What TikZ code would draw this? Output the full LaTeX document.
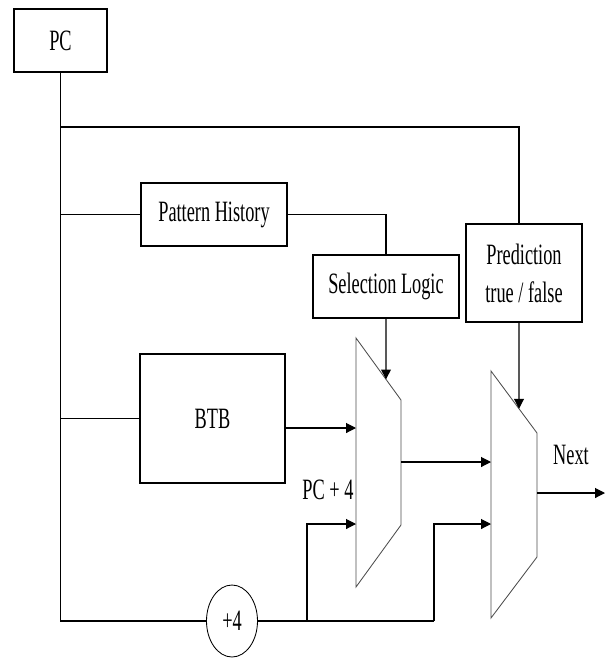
\documentclass[tikz,border=0pt]{standalone}
\usepackage{fontspec}
\setmainfont{Liberation Serif}[FakeStretch=0.62]
\usetikzlibrary{arrows.meta,shapes,positioning,calc}
\tikzset{
    box/.style={draw,rectangle,line width=0.8pt,inner sep=0pt,align=center,font=\fontsize{21}{27}\selectfont},
    adder/.style={draw,ellipse,line width=0.6pt,minimum width=1.275cm,minimum height=1.8cm,inner sep=0pt,font=\fontsize{21}{25}\selectfont},
    line/.style={-,line width=0.8pt},
    arr/.style={-{Triangle[length=7pt,width=7pt]},line width=0.8pt},
    mux/.style={draw,line width=0.6pt,black!70},
    lbl/.style={font=\fontsize{21}{25}\selectfont},
}
\begin{document}
\begin{tikzpicture}
    \useasboundingbox (0,0) rectangle (15.15,-16.5);
    \node[box,minimum width=2.325cm,minimum height=1.575cm] (pc) at (1.5125,-1.0125) {PC};
    \node[box,minimum width=3.65cm,minimum height=1.575cm] (hist) at (5.35,-5.3625) {Pattern History};
    \node[box,minimum width=3.65cm,minimum height=1.575cm] (sel) at (9.65,-7.1625) {Selection Logic};
    \node[box,minimum width=2.9cm,minimum height=2.45cm] (pred) at (13.1,-6.825) {Prediction\\true / false};
    \node[box,minimum width=3.625cm,minimum height=3.225cm] (btb) at (5.3125,-10.4625) {BTB};
    \node[adder] (add) at (5.8,-15.525) {+4};
    % multiplexers
    \coordinate (m1a) at (8.9,-8.45);
    \coordinate (m1b) at (10.025,-10);
    \coordinate (m1c) at (10.025,-13.125);
    \coordinate (m1d) at (8.9,-14.675);
    \coordinate (m2a) at (12.275,-9.275);
    \coordinate (m2b) at (13.425,-10.825);
    \coordinate (m2c) at (13.425,-13.925);
    \coordinate (m2d) at (12.275,-15.45);
    \draw[mux] (m1a) -- (m1b) -- (m1c) -- (m1d) -- cycle;
    \draw[mux] (m2a) -- (m2b) -- (m2c) -- (m2d) -- cycle;
    \coordinate (top) at (12.975,-3.175);
    \coordinate (pin) at (top |- pred.south);
    \coordinate (s1) at (intersection of m1a--m1b and sel.south--sel.north);
    \coordinate (s2) at (intersection of m2a--m2b and top--pin);
    \coordinate (in1) at (8.9,-10.7);
    \coordinate (in2) at (8.9,-13.1);
    \coordinate (in3) at (12.275,-11.55);
    \coordinate (in4) at (12.275,-13.1);
    \coordinate (out) at (15.125,-12.325);
    \coordinate (br1) at (7.675,-13.1);
    \coordinate (br2) at (10.85,-13.1);
    \node[lbl] (pcfour) at (8.2,-12.25) {PC + 4};
    \node[lbl] (next) at (14.275,-11.375) {Next};
    \draw[line] (pc.south) -- (pc.south |- add.west) -- (add.west);
    \draw[line] (pc.south |- top) -- (top) -- (top |- pred.north);
    \draw[line] (pc.south |- hist.west) -- (hist.west);
    \draw[line] (hist.east) -| (sel.north);
    \draw[line] (pc.south |- btb.west) -- (btb.west);
    \draw[arr] (sel.south) -- (s1);
    \draw[arr] (pin) -- (s2);
    \draw[arr] (btb.east |- in1) -- (in1);
    \draw[arr] (m1b |- in3) -- (in3);
    \draw[arr] (m2b |- out) -- (out);
    \draw[line] (add.east) -- (br2 |- add.east);
    \draw[arr] (br1 |- add.east) |- (in2);
    \draw[arr] (br2 |- add.east) |- (in4);
\end{tikzpicture}
\end{document}
